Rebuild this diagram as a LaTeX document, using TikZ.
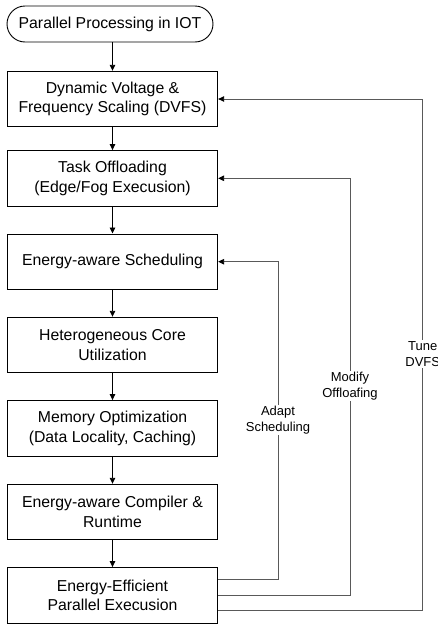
\documentclass[tikz,border=0pt]{standalone}
\usepackage{fontspec}
\setmainfont{Liberation Sans}
\usetikzlibrary{arrows.meta,positioning}
\begin{document}
\begin{tikzpicture}[x=1pt,y=-1pt,
  stepbox/.style={draw=black,line width=0.9pt,minimum width=210.4pt,minimum height=55.5pt,align=center,inner sep=2pt,
    font=\fontsize{15.8pt}{19.5pt}\selectfont},
  termbox/.style={draw=black,line width=0.9pt,rounded corners=18pt,minimum width=206pt,minimum height=36pt,
    font=\fontsize{15.8pt}{19.5pt}\selectfont},
  flow/.style={line width=0.9pt,-{Triangle[length=6pt,width=5.5pt]}},
  fb/.style={draw=black!65,line width=0.9pt,-{Triangle[length=6pt,width=5.5pt,color=black]}},
  fblabel/.style={fill=white,align=center,inner sep=1.5pt,font=\fontsize{13pt}{15.5pt}\selectfont}]
\useasboundingbox (0,0) rectangle (437,624);
\node[termbox] (t) at (110,24) {Parallel Processing in IOT};
\node[stepbox] (b1) at (112.5,99) {Dynamic Voltage \&\\Frequency Scaling (DVFS)};
\node[stepbox] (b2) at (112.5,178.3) {Task Offloading\\(Edge/Fog Execusion)};
\node[stepbox] (b3) at (112.5,261.7) {Energy-aware Scheduling};
\node[stepbox] (b4) at (112.5,345) {Heterogeneous Core\\Utilization};
\node[stepbox] (b5) at (112.5,428.3) {Memory Optimization\\(Data Locality, Caching)};
\node[stepbox] (b6) at (112.5,512) {Energy-aware Compiler \&\\Runtime};
\node[stepbox] (b7) at (112.5,595.3) {Energy-Efficient\\Parallel Execusion};
\draw[flow] (b1.north |- t.south) -- (b1.north);
\draw[flow] (b1) -- (b2);
\draw[flow] (b2) -- (b3);
\draw[flow] (b3) -- (b4);
\draw[flow] (b4) -- (b5);
\draw[flow] (b5) -- (b6);
\draw[flow] (b6) -- (b7);
\coordinate (c3) at (278,261.7);
\coordinate (c2) at (350,178.3);
\coordinate (c1) at (422.7,99);
\draw[fb] ([yshift=16pt]b7.east) -| (c3) -- (b3.east);
\draw[fb] (b7.east) -| (c2) -- (b2.east);
\draw[fb] ([yshift=-14.7pt]b7.east) -| (c1) -- (b1.east);
\node[fblabel] (l3) at (278,420) {Adapt\\Scheduling};
\node[fblabel] (l2) at (350,386) {Modify\\Offloafing};
\node[fblabel] (l1) at (422.7,354) {Tune\\DVFS};
\end{tikzpicture}
\end{document}
